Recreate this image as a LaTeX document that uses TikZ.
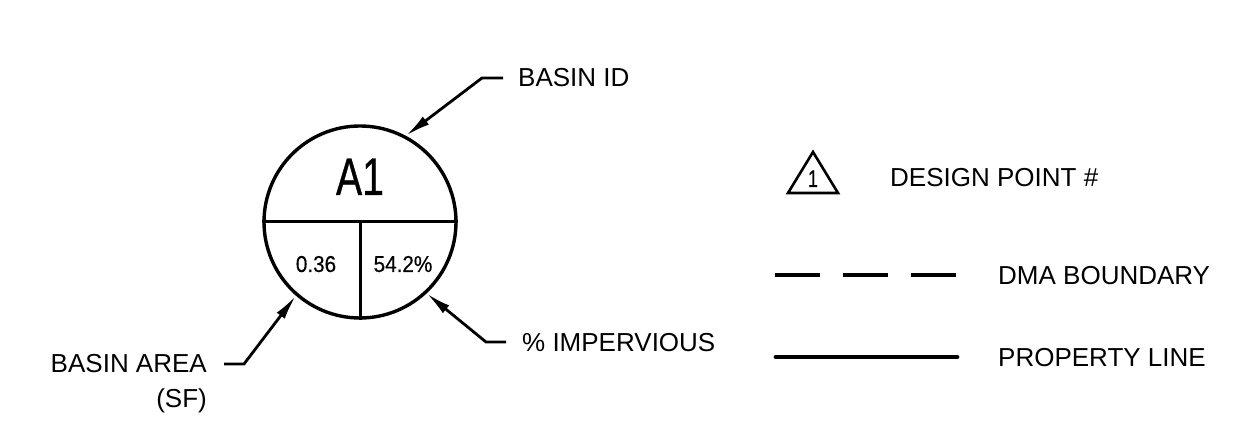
\documentclass[tikz,border=0pt]{standalone}
\usepackage{fontspec}
\setmainfont{Liberation Sans}
\newfontfamily\narrowfont[FakeStretch=0.74,FakeBold=0.6]{Liberation Sans}
\newfontfamily\semifont[FakeStretch=0.9,FakeBold=0.3]{Liberation Sans}
\usetikzlibrary{arrows.meta}
\newcommand{\lbl}{\fontsize{26}{30}\selectfont}

\begin{document}
\begin{tikzpicture}
    [
      x=1pt, y=-1pt,
      line join=miter,
      basin/.style=
      {
        circle,
        draw,
        line width=3.4pt,
        minimum size=192pt,
        inner sep=0pt
      },
      divider/.style=
      {
        line width=3pt
      },
      leader/.style=
      {
        line width=2.8pt,
        -{Latex[length=25pt,width=10pt]}
      },
      txt/.style=
      {
        inner sep=0pt,
        font=\lbl
      },
      dmaline/.style=
      {
        line width=4.8pt,
        dash pattern=on 45pt off 23pt
      },
      propline/.style=
      {
        line width=4.8pt,
        line cap=round
      }
    ]
    \useasboundingbox (0,0) rectangle (1240,422);

    % basin symbol
    \node[basin] (Basin) at (360,222) {};
    \draw[divider] (Basin.west) -- (Basin.east);
    \draw[divider] (Basin.center) -- (Basin.south);
    \node[inner sep=0pt, anchor=base] (BasinId) at (360,195)
      {\narrowfont\fontsize{53}{60}\selectfont A1};
    \node[inner sep=0pt, anchor=base] (BasinArea) at (316,272)
      {\semifont\fontsize{23}{26}\selectfont 0.36};
    \node[inner sep=0pt, anchor=base] (BasinImp) at (403,272)
      {\semifont\fontsize{23}{26}\selectfont 54.2\%};

    % callouts
    \node[txt, anchor=base west] (IdText) at (518,87) {BASIN ID};
    \coordinate (IdEnd) at (503,78);
    \coordinate (IdKnee) at (482,78);
    \draw[leader] (IdEnd) -- (IdKnee) -- (Basin.62);

    \node[txt, anchor=base east] (AreaText) at (207,372) {BASIN AREA};
    \node[txt, anchor=base east] (AreaUnit) at (207,407) {(SF)};
    \coordinate (AreaEnd) at (224,364);
    \coordinate (AreaKnee) at (244,364);
    \draw[leader] (AreaEnd) -- (AreaKnee) -- (Basin.229);

    \node[txt, anchor=base west] (ImpText) at (522,351) {\% IMPERVIOUS};
    \coordinate (ImpEnd) at (506,342);
    \coordinate (ImpKnee) at (486,342);
    \draw[leader] (ImpEnd) -- (ImpKnee) -- (Basin.313);

    % legend
    \coordinate (TriTop) at (813,152);
    \coordinate (TriRight) at (838,193);
    \coordinate (TriLeft) at (788,193);
    \draw[line width=2.6pt] (TriTop) -- (TriRight) -- (TriLeft) -- cycle;
    \node[inner sep=0pt, anchor=base] (TriNum) at (813,187)
      {\narrowfont\fontsize{24}{26}\selectfont 1};
    \node[txt, anchor=base west] (PointText) at (890,187) {DESIGN POINT \#};

    \coordinate (DmaStart) at (775,275);
    \coordinate (DmaEnd) at (957,275);
    \draw[dmaline] (DmaStart) -- (DmaEnd);
    \node[txt, anchor=base west] (DmaText) at (998,284) {DMA BOUNDARY};

    \coordinate (PropStart) at (776,357);
    \coordinate (PropEnd) at (957,357);
    \draw[propline] (PropStart) -- (PropEnd);
    \node[txt, anchor=base west] (PropText) at (998,366) {PROPERTY LINE};
\end{tikzpicture}
\end{document}
